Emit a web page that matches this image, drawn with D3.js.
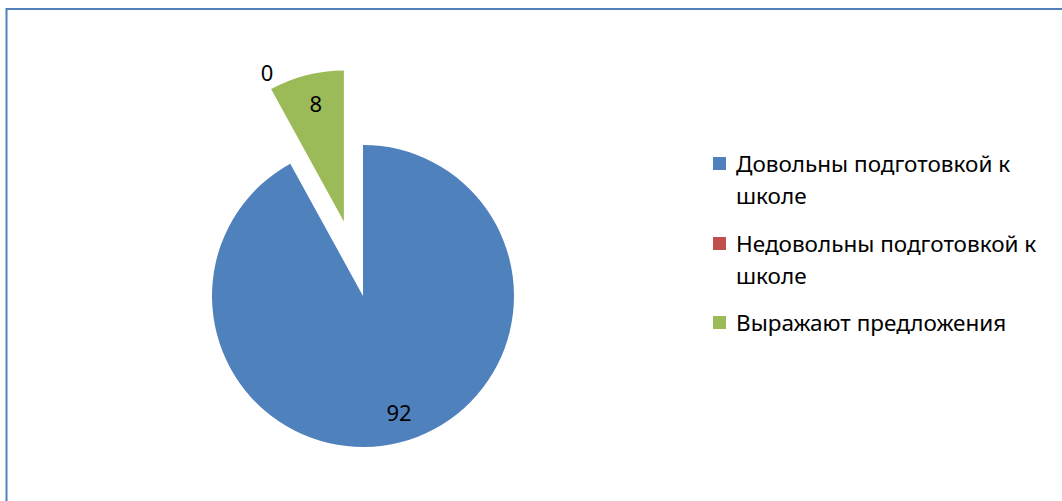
<!DOCTYPE html>
<html>
<head>
<meta charset="utf-8">
<script src="https://cdn.jsdelivr.net/npm/d3@7"></script>
<style>
  body { margin: 0; background: #fff; }
  text { font-family: "Noto Sans", sans-serif; }
</style>
</head>
<body>
<div id="chart-area"></div>
<script>
const WIDTH = 1062
const HEIGHT = 501

// data
const categories = ["Довольны подготовкой к школе", "Недовольны подготовкой к школе", "Выражают предложения"]
const legendLines = [["Довольны подготовкой к", "школе"], ["Недовольны подготовкой к", "школе"], ["Выражают предложения"]]
const values = [92, 0, 8]
const colors = ["#4F81BD", "#C0504D", "#9BBB59"]
const exploded = [false, false, true]

const CX = 363, CY = 296, R = 151
const EXPLODE = 77

const svg = d3.select("#chart-area").append("svg")
	.attr("width", WIDTH)
	.attr("height", HEIGHT)

// chart frame (only left and top edges show)
svg.append("path")
	.attr("d", `M6.5,${HEIGHT} V9 H${WIDTH + 5}`)
	.attr("fill", "none")
	.attr("stroke", "#4F81BD")
	.attr("stroke-width", 2)

const g = svg.append("g")
	.attr("transform", `translate(${CX}, ${CY})`)

const pie = d3.pie().sort(null).value(d => d)
const arcs = pie(values)
const arc = d3.arc().innerRadius(0).outerRadius(R)
const labelArc = d3.arc().innerRadius(R * 0.8).outerRadius(R * 0.8)

const offset = (d, i) => {
	if (!exploded[i]) return [0, 0]
	const a = (d.startAngle + d.endAngle) / 2
	return [Math.sin(a) * EXPLODE, -Math.cos(a) * EXPLODE]
}

const slices = g.selectAll(".slice")
	.data(arcs)
	.enter().append("g")
	.attr("class", "slice")
	.attr("transform", (d, i) => `translate(${offset(d, i)})`)

slices.append("path")
	.attr("d", arc)
	.attr("fill", (d, i) => colors[i])

// data labels
slices.append("text")
	.attr("transform", (d, i) => {
		if (d.value === 0) {
			// zero slice: label sits just outside the edge of the slice next to it
			const next = arcs[i + 1]
			const [ox, oy] = offset(next, i + 1)
			const a = d.startAngle
			return `translate(${Math.sin(a) * R + ox - 4}, ${-Math.cos(a) * R + oy - 16})`
		}
		const [x, y] = labelArc.centroid(d)
		return `translate(${x + (d.value > 50 ? 6 : 2)}, ${y})`
	})
	.attr("text-anchor", "middle")
	.attr("dy", "0.35em")
	.attr("font-size", "22px")
	.attr("fill", "#000")
	.text(d => d.value)

// legend
const legend = svg.append("g")
	.attr("transform", "translate(713, 0)")

const itemY = [172, 252, 331]
const LINE = 32

legendLines.forEach((lines, i) => {
	const item = legend.append("g")
		.attr("transform", `translate(0, ${itemY[i]})`)
	item.append("rect")
		.attr("x", 0)
		.attr("y", -15)
		.attr("width", 13)
		.attr("height", 13)
		.attr("fill", colors[i])
	item.selectAll("text")
		.data(lines)
		.enter().append("text")
		.attr("x", 23)
		.attr("y", (d, j) => j * LINE)
		.attr("font-size", "22.5px")
		.attr("fill", "#000")
		.text(d => d)
})
</script>
</body>
</html>
